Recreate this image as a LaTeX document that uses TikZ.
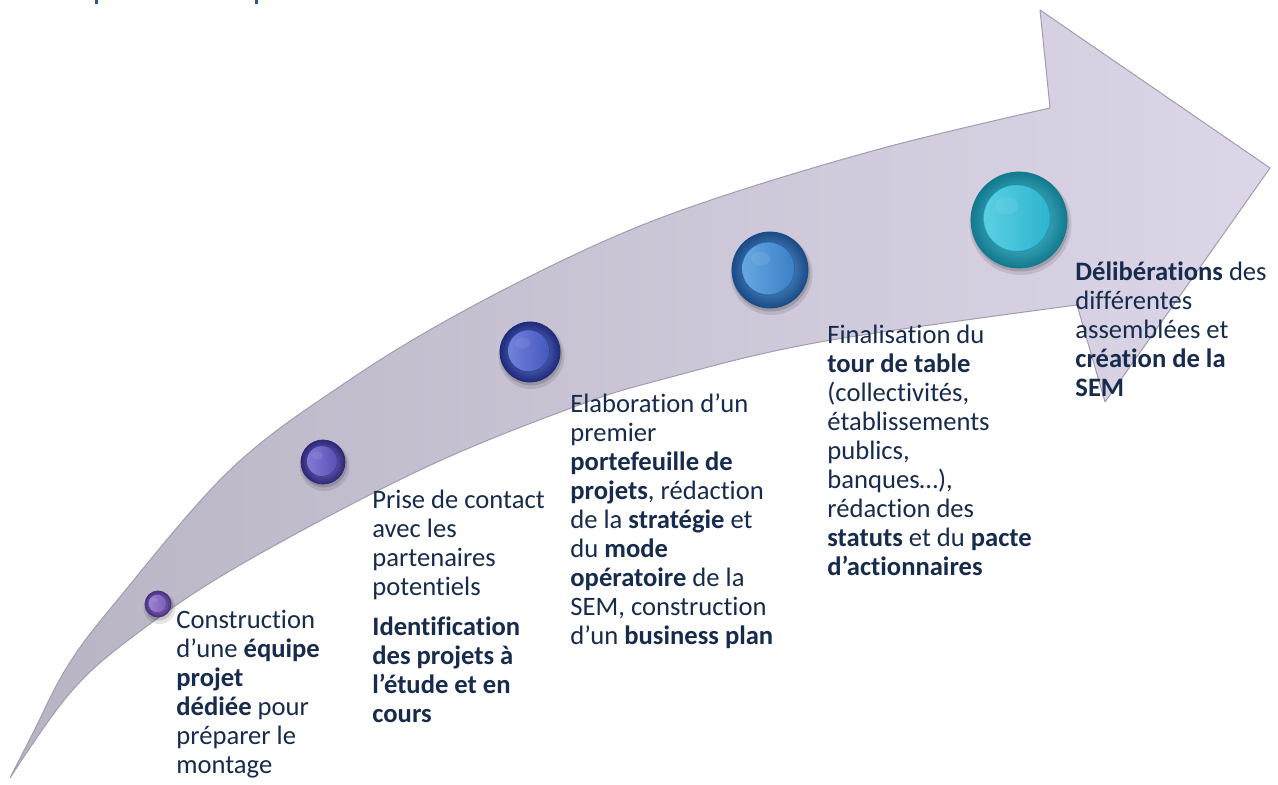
\documentclass[tikz,border=0pt]{standalone}
\usepackage{fontspec}
\setmainfont{Carlito}[Ligatures=NoCommon]
\definecolor{txt}{HTML}{172B4D}
\definecolor{arrL}{HTML}{B9B4C4}
\definecolor{arrR}{HTML}{DCD6E8}
\definecolor{arrE}{HTML}{A29DAE}
\definecolor{mk}{HTML}{2F5597}
\definecolor{dA}{HTML}{4A2F82}\definecolor{bA}{HTML}{7C5EBA}\definecolor{lA}{HTML}{A68CDA}
\definecolor{dB}{HTML}{2E2878}\definecolor{bB}{HTML}{5B51B6}\definecolor{lB}{HTML}{8E85DC}
\definecolor{dC}{HTML}{1E2B7C}\definecolor{bC}{HTML}{4558BF}\definecolor{lC}{HTML}{7D8DE2}
\definecolor{dD}{HTML}{1A4B86}\definecolor{bD}{HTML}{3B80C7}\definecolor{lD}{HTML}{72B2EA}
\definecolor{dE}{HTML}{127A8F}\definecolor{bE}{HTML}{2DB5CE}\definecolor{lE}{HTML}{66D6E8}
\tikzset{
  lbl/.style={anchor=north west, inner sep=0pt, align=left, text=txt,
              font=\fontsize{13.3}{14.5}\selectfont},
  btnbody/.style={circle, inner sep=0pt, draw=#1, line width=0.4pt}
}
\newcommand\btn[7]{%
  \fill[black,opacity=.10] (#2+1.5,#3+4) circle [radius=#4+3];
  \fill[black,opacity=.15] (#2+1,#3+2.5) circle [radius=#4+1];
  \node[btnbody=#5, minimum size=#4 pt, inner color=#7, outer color=#5] (#1) at (#2,#3) {};
  \fill[#6] (#2-0.05*#4,#3-0.04*#4) circle [radius=0.70*#4];
  \shade[left color=#7, right color=#6, opacity=.8] (#2-0.05*#4,#3-0.04*#4) circle [radius=0.68*#4];
  \draw[#5, opacity=.45, line width=0.3pt] (#2-0.05*#4,#3-0.04*#4) circle [radius=0.70*#4];
  \fill[white, opacity=.08] (#2-0.25*#4,#3-0.30*#4) ellipse [x radius=0.25*#4, y radius=0.18*#4];
}
\begin{document}
\begin{tikzpicture}[x=0.5pt,y=-0.5pt]
\useasboundingbox (0,0) rectangle (1278,785);
\fill[white] (0,0) rectangle (1278,785);
% tiny marks of cut-off title
\fill[mk] (95,0) rectangle (97.5,4);
\fill[mk] (255,0) rectangle (257.5,4);
% arrow
\shade[left color=arrL, right color=arrR]
  plot[smooth, tension=0.6] coordinates {(10,778) (33,733) (67,667) (115,603) (230,470) (345,383) (460,313) (600,243) (720,197) (887,147) (1050,108)}
  -- (1040,10) -- (1270,168) -- (1105,402) -- (1077,305)
  -- plot[smooth, tension=0.6] coordinates {(1077,305) (820,342) (660,380) (571,408) (420,470) (240,565) (135,635) (70,693) (10,778)} -- cycle;
\draw[arrE, line width=0.5pt, line join=round]
  plot[smooth, tension=0.6] coordinates {(10,778) (33,733) (67,667) (115,603) (230,470) (345,383) (460,313) (600,243) (720,197) (887,147) (1050,108)}
  -- (1040,10) -- (1270,168) -- (1105,402) -- (1077,305)
  -- plot[smooth, tension=0.6] coordinates {(1077,305) (820,342) (660,380) (571,408) (420,470) (240,565) (135,635) (70,693) (10,778)} -- cycle;
% buttons
\btn{b1}{158}{604}{13}{dA}{bA}{lA}
\btn{b2}{323}{462}{22}{dB}{bB}{lB}
\btn{b3}{530}{352}{30}{dC}{bC}{lC}
\btn{b4}{770}{270}{38}{dD}{bD}{lD}
\btn{b5}{1019}{220}{48}{dE}{bE}{lE}
% texts
\node[lbl] (t1) at (176,608) {\strut Construction\\d’une \textbf{équipe}\\\textbf{projet}\\\textbf{dédiée} pour\\préparer le\\montage};
\node[lbl] (t2) at (372,488) {\strut Prise de contact\\avec les\\partenaires\\potentiels\\[5.5pt]\textbf{Identification}\\\textbf{des projets à}\\\textbf{l’étude et en}\\\textbf{cours}};
\node[lbl] (t3) at (570,392) {\strut Elaboration d’un\\premier\\\textbf{portefeuille de}\\\textbf{projets}, rédaction\\de la \textbf{stratégie} et\\du \textbf{mode}\\\textbf{opératoire} de la\\SEM, construction\\d’un \textbf{business plan}};
\node[lbl] (t4) at (827,323) {\strut Finalisation du\\\textbf{tour de table}\\(collectivités,\\établissements\\publics,\\banques…),\\rédaction des\\\textbf{statuts} et du \textbf{pacte}\\\textbf{d’actionnaires}};
\node[lbl] (t5) at (1075,260) {\strut\textbf{Délibérations} des\\différentes\\assemblées et\\\textbf{création de la}\\\textbf{SEM}};
\end{tikzpicture}
\end{document}
